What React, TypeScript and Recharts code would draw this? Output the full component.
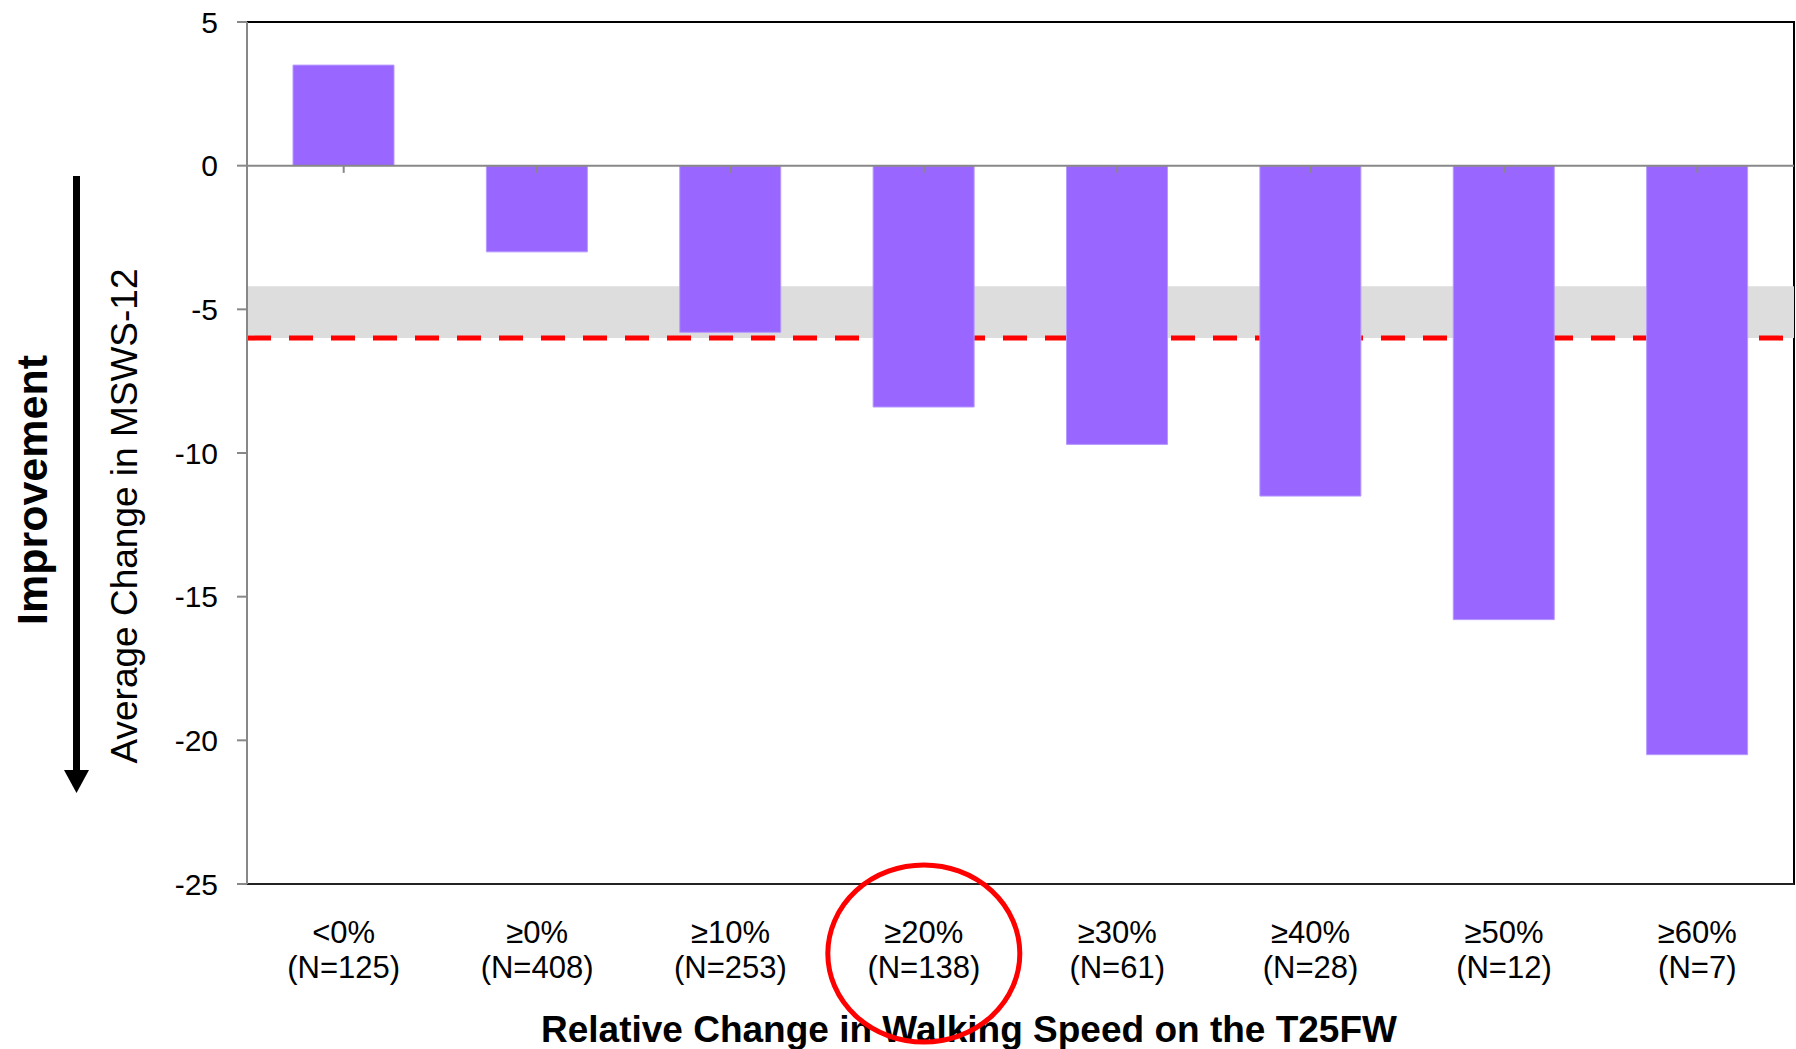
import { BarChart, Bar, XAxis, YAxis, ReferenceLine, ReferenceArea, ReferenceDot } from 'recharts';

const FONT = '"Liberation Sans", Arial, sans-serif';

const categories = ['<0%', '≥0%', '≥10%', '≥20%', '≥30%', '≥40%', '≥50%', '≥60%'];
const sampleSizes = [125, 408, 253, 138, 61, 28, 12, 7];
const msws12Change = [3.5, -3.0, -5.8, -8.4, -9.7, -11.5, -15.8, -20.5];
const yTicks = [5, 0, -5, -10, -15, -20, -25];
const yDomain = [-25, 5];
const mcidBand = [-6, -4.2];
const mcidLine = -6;
const circledCategory = '≥20%';

const data = categories.map((cat, i) => ({ cat, n: sampleSizes[i], value: msws12Change[i] }));

function CategoryTick({ x, y, payload, index }: any) {
  const n = sampleSizes[index ?? categories.indexOf(payload.value)];
  return (
    <g fontFamily={FONT} fontSize={31} fill="#000">
      <text x={x} y={y + 59} textAnchor="middle">{payload.value}</text>
      <text x={x} y={y + 94} textAnchor="middle">{`(N=${n})`}</text>
    </g>
  );
}

function YTitle({ viewBox }: any) {
  const { x, y } = viewBox;
  return (
    <g fontFamily={FONT} fill="#000">
      <line x1={x + 76.5} y1={y + 154} x2={x + 76.5} y2={y + 750} stroke="#000" strokeWidth={7} />
      <polygon points={`${x + 64},${y + 748} ${x + 89},${y + 748} ${x + 76.5},${y + 771}`} fill="#000" />
      <text transform={`translate(${x + 47},${y + 468}) rotate(-90)`} textAnchor="middle" fontSize={43} fontWeight="bold">
        Improvement
      </text>
      <text transform={`translate(${x + 137},${y + 494}) rotate(-90)`} textAnchor="middle" fontSize={37}>
        Average Change in MSWS-12
      </text>
    </g>
  );
}

function XTitle({ viewBox }: any) {
  const { x, y } = viewBox;
  return (
    <text x={x + 722} y={y + 158} textAnchor="middle" fontFamily={FONT} fontSize={37} fontWeight="bold" fill="#000">
      Relative Change in Walking Speed on the T25FW
    </text>
  );
}

function Ellipse({ cx, cy }: any) {
  return <ellipse cx={cx} cy={cy + 69.5} rx={96} ry={88.5} fill="none" stroke="#ff0000" strokeWidth={5} />;
}

export default function App() {
  return (
    <div style={{ position: 'absolute', left: 0, top: 0, background: '#fff' }}>
      <BarChart width={1796} height={1049} data={data} margin={{ top: 22, right: 2, bottom: 0, left: 0 }}>
        {/* plot frame */}
        <ReferenceArea y1={yDomain[0]} y2={yDomain[1]} fill="none" stroke="#000" strokeWidth={2} zIndex={40} />
        <ReferenceArea y1={mcidBand[0]} y2={mcidBand[1]} fill="#dddddd" fillOpacity={1} stroke="none" zIndex={50} />
        <ReferenceLine y={mcidLine} stroke="#ff0000" strokeWidth={5} strokeDasharray="24 18" zIndex={60} />
        <XAxis
          dataKey="cat"
          height={165}
          tickSize={0}
          tickMargin={0}
          tickLine={false}
          axisLine={{ stroke: '#222', strokeWidth: 2 }}
          tick={<CategoryTick />}
          interval={0}
          label={<XTitle />}
        />
        <YAxis
          width={247}
          domain={yDomain}
          ticks={yTicks}
          interval={0}
          tickSize={10}
          tickMargin={19}
          tickLine={{ stroke: '#888', strokeWidth: 2 }}
          axisLine={{ stroke: '#888', strokeWidth: 2 }}
          tick={{ fontSize: 30, fill: '#000', fontFamily: FONT }}
          label={<YTitle />}
        />
        <Bar dataKey="value" fill="#9966ff" stroke="#b59aff" strokeWidth={1} barSize={101} isAnimationActive={false} />
        <ReferenceLine y={0} stroke="#888" strokeWidth={2} />
        {categories.map((c) => (
          <ReferenceLine key={c} segment={[{ x: c, y: 0 }, { x: c, y: -0.25 }]} stroke="#888" strokeWidth={2} />
        ))}
        <ReferenceDot x={circledCategory} y={yDomain[0]} ifOverflow="visible" shape={<Ellipse />} zIndex={2000} />
      </BarChart>
    </div>
  );
}
